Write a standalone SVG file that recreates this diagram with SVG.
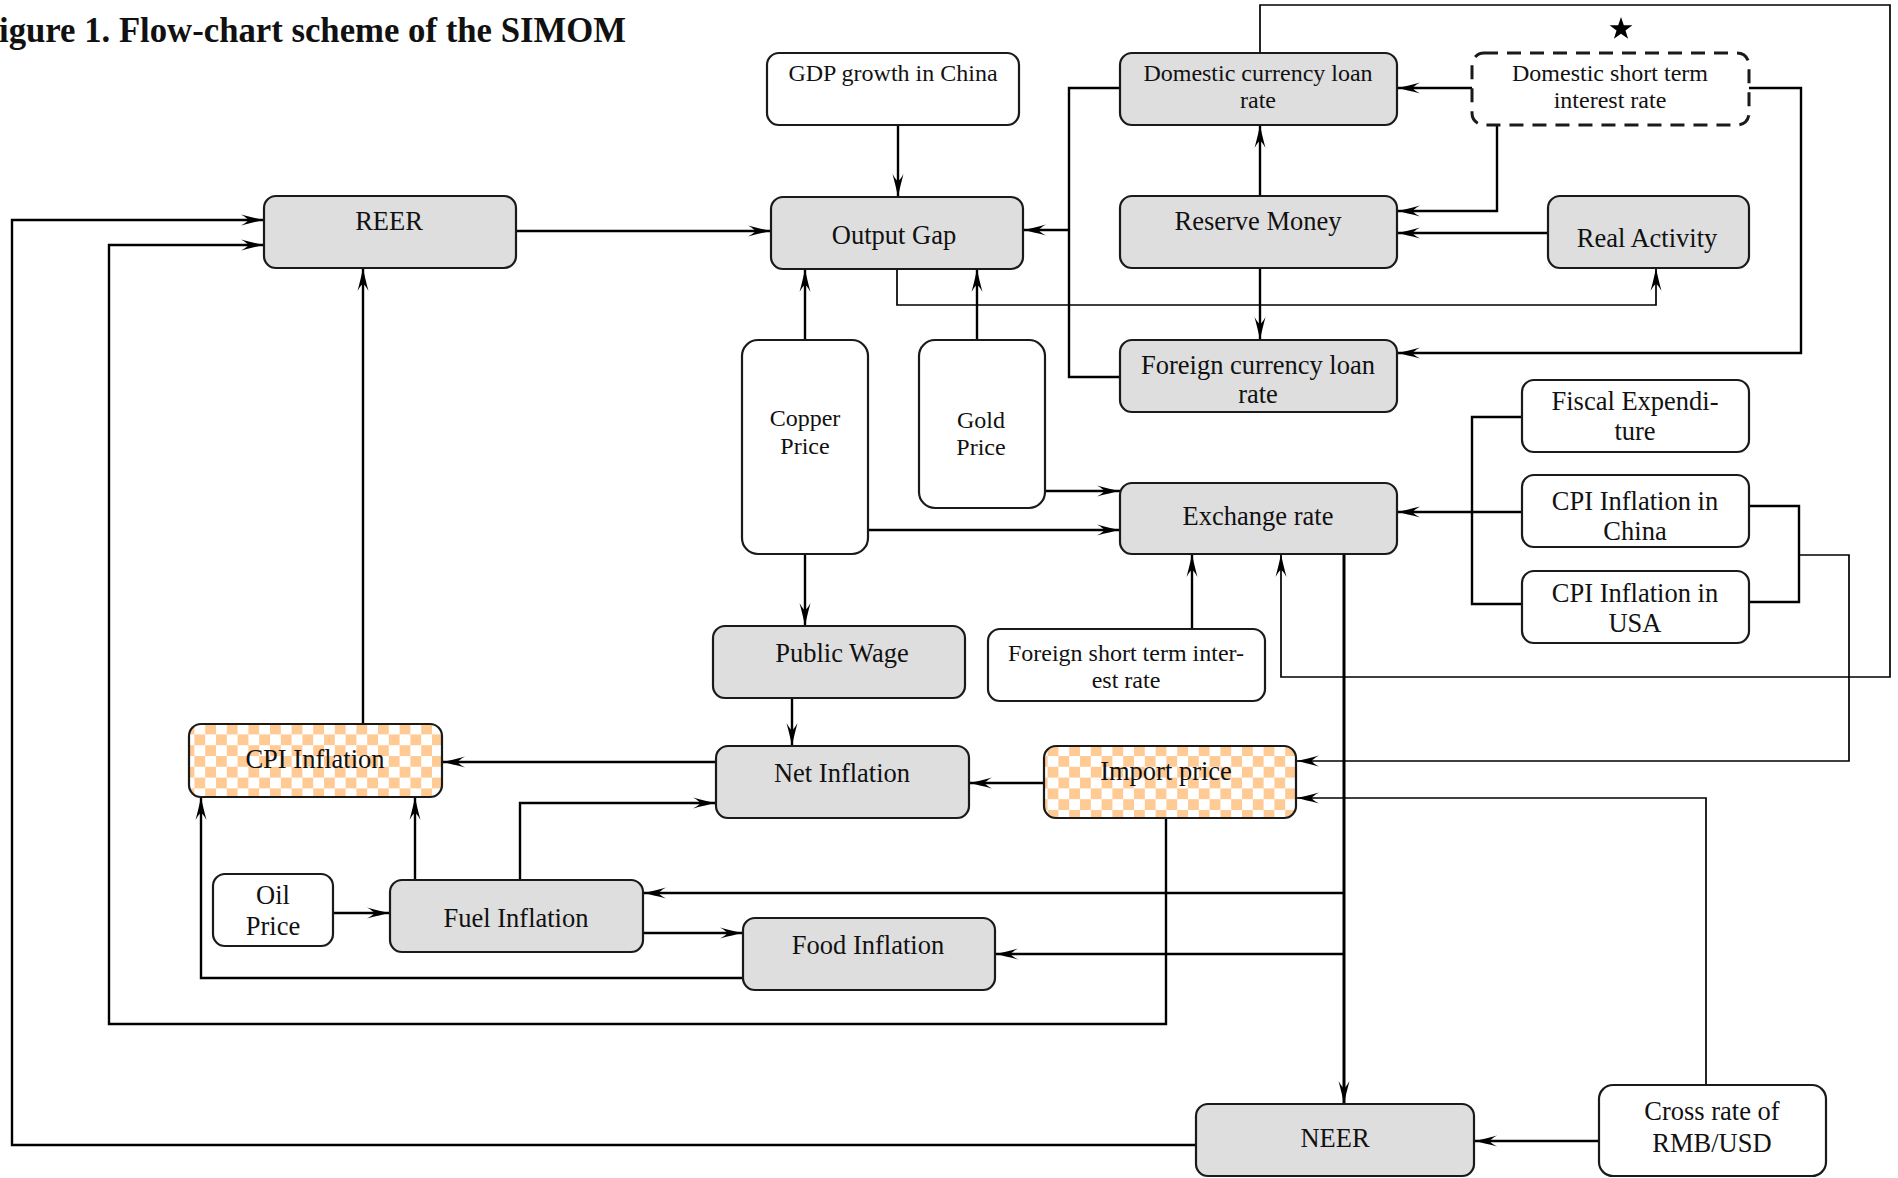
<svg xmlns="http://www.w3.org/2000/svg" width="1898" height="1178" viewBox="0 0 1898 1178">
<defs>
<style>
.n{stroke:#1a1a1a;stroke-width:2.2}
.g{fill:#dedede}
.w{fill:#ffffff}
.c{fill:url(#chk)}
.d{fill:#ffffff;stroke-dasharray:14 9;stroke-width:3}
text{font-family:"Liberation Serif","Times New Roman",serif;fill:#111;text-anchor:middle}
.t{font-size:26.5px}
.s{font-size:24px}
.ttl{font-size:35px;font-weight:bold;text-anchor:start}
.e{fill:none;stroke:#000;stroke-width:2.4}
.th{stroke-width:1.7}
.tk{stroke-width:3}
.ar{marker-end:url(#a)}
</style>
<pattern id="chk" patternUnits="userSpaceOnUse" width="21.6" height="21.6" x="0" y="0">
<rect width="21.6" height="21.6" fill="#ffffff"/>
<rect width="10.8" height="10.8" fill="#ffca94"/>
<rect x="10.8" y="10.8" width="10.8" height="10.8" fill="#ffca94"/>
</pattern>
<marker id="a" markerUnits="userSpaceOnUse" markerWidth="24" markerHeight="14" viewBox="0 0 24 14" refX="24" refY="7" orient="auto">
<path d="M24,7 Q14,5 1,1.5 Q8,5.5 8,7 Q8,8.5 1,12.5 Q14,9 24,7 Z" fill="#000"/>
</marker>
</defs>
<rect width="1898" height="1178" fill="#ffffff"/>
<text class="ttl" x="-1" y="42" textLength="627" lengthAdjust="spacingAndGlyphs">igure 1. Flow-chart scheme of the SIMOM</text>

<g id="connectors">
<path class="e ar" d="M898,125 V197"/>
<path class="e ar" d="M516,231 H771"/>
<path class="e" d="M1120,88 H1069 V377 H1120"/>
<path class="e ar" d="M1069,230 H1023"/>
<path class="e ar" d="M1260,196 V125"/>
<path class="e ar" d="M1260,268 V340"/>
<path class="e ar" d="M1472,88 H1397"/>
<path class="e ar" d="M1497,125 V211 H1397"/>
<path class="e ar" d="M1548,233 H1397"/>
<path class="e th ar" d="M897,269 V305 H1656 V268"/>
<path class="e ar" d="M1749,88 H1801 V353 H1397"/>
<path class="e th ar" d="M1260,53 V5 H1890 V677 H1281 V554"/>
<path class="e ar" d="M977,340 V269"/>
<path class="e ar" d="M805,340 V269"/>
<path class="e ar" d="M1045,491 H1120"/>
<path class="e ar" d="M868,530 H1120"/>
<path class="e ar" d="M805,554 V626"/>
<path class="e ar" d="M792,698 V746"/>
<path class="e ar" d="M1192,629 V554"/>
<path class="e" d="M1522,417 H1472 V604 H1522"/>
<path class="e ar" d="M1522,512 H1397"/>
<path class="e" d="M1749,506 H1799 V602 H1749"/>
<path class="e th ar" d="M1799,555 H1849 V761 H1296"/>
<path class="e tk ar" d="M1344,554 V1104"/>
<path class="e ar" d="M1344,893 H643"/>
<path class="e ar" d="M1344,954 H995"/>
<path class="e th ar" d="M1706,1085 V798 H1296"/>
<path class="e ar" d="M1599,1141 H1474"/>
<path class="e ar" d="M1196,1145 H12 V220 H264"/>
<path class="e ar" d="M1166,818 V1024 H109 V245 H264"/>
<path class="e ar" d="M1044,783 H969"/>
<path class="e ar" d="M716,762 H442"/>
<path class="e ar" d="M363,724 V268"/>
<path class="e ar" d="M415,880 V797"/>
<path class="e ar" d="M520,880 V803 H716"/>
<path class="e ar" d="M333,913 H390"/>
<path class="e ar" d="M643,933 H743"/>
<path class="e ar" d="M743,978 H201 V797"/>
</g>

<g id="gdp"><rect class="n w" x="767" y="53" width="252" height="72" rx="12"/><text class="s" x="893" y="81">GDP growth in China</text></g>
<g id="dclr"><rect class="n g" x="1120" y="53" width="277" height="72" rx="12"/><text class="s" x="1258" y="81">Domestic currency loan</text><text class="s" x="1258" y="108">rate</text></g>
<g id="dstir"><rect class="n d" x="1472" y="53" width="277" height="72" rx="12"/><text class="s" x="1610" y="81">Domestic short term</text><text class="s" x="1610" y="108">interest rate</text>
<polygon points="1621,17 1623.8,25.2 1632.4,25.3 1625.5,30.4 1628.1,38.7 1621,33.7 1613.9,38.7 1616.5,30.4 1609.6,25.3 1618.2,25.2" fill="#000"/></g>
<g id="reer"><rect class="n g" x="264" y="196" width="252" height="72" rx="12"/><text class="t" x="389" y="230">REER</text></g>
<g id="outputgap"><rect class="n g" x="771" y="197" width="252" height="72" rx="12"/><text class="t" x="894" y="244">Output Gap</text></g>
<g id="reservemoney"><rect class="n g" x="1120" y="196" width="277" height="72" rx="12"/><text class="t" x="1258" y="230">Reserve Money</text></g>
<g id="realactivity"><rect class="n g" x="1548" y="196" width="201" height="72" rx="12"/><text class="t" x="1647" y="247">Real Activity</text></g>
<g id="copper"><rect class="n w" x="742" y="340" width="126" height="214" rx="16"/><text class="s" x="805" y="426">Copper</text><text class="s" x="805" y="454">Price</text></g>
<g id="gold"><rect class="n w" x="919" y="340" width="126" height="168" rx="16"/><text class="s" x="981" y="428">Gold</text><text class="s" x="981" y="455">Price</text></g>
<g id="fclr"><rect class="n g" x="1120" y="340" width="277" height="72" rx="12"/><text class="t" x="1258" y="374">Foreign currency loan</text><text class="t" x="1258" y="403">rate</text></g>
<g id="fiscal"><rect class="n w" x="1522" y="380" width="227" height="72" rx="12"/><text class="t" x="1635" y="410">Fiscal Expendi-</text><text class="t" x="1635" y="440">ture</text></g>
<g id="exchange"><rect class="n g" x="1120" y="483" width="277" height="71" rx="12"/><text class="t" x="1258" y="525">Exchange rate</text></g>
<g id="cpichina"><rect class="n w" x="1522" y="475" width="227" height="72" rx="12"/><text class="t" x="1635" y="510">CPI Inflation in</text><text class="t" x="1635" y="540">China</text></g>
<g id="cpiusa"><rect class="n w" x="1522" y="571" width="227" height="72" rx="12"/><text class="t" x="1635" y="602">CPI Inflation in</text><text class="t" x="1635" y="632">USA</text></g>
<g id="publicwage"><rect class="n g" x="713" y="626" width="252" height="72" rx="12"/><text class="t" x="842" y="662">Public Wage</text></g>
<g id="fstir"><rect class="n w" x="988" y="629" width="277" height="72" rx="12"/><text class="s" x="1126" y="661">Foreign short term inter-</text><text class="s" x="1126" y="688">est rate</text></g>
<g id="cpiinflation"><rect class="n c" x="189" y="724" width="253" height="73" rx="12"/><text class="t" x="315" y="768">CPI Inflation</text></g>
<g id="netinflation"><rect class="n g" x="716" y="746" width="253" height="72" rx="12"/><text class="t" x="842" y="782">Net Inflation</text></g>
<g id="importprice"><rect class="n c" x="1044" y="746" width="252" height="72" rx="12"/><text class="t" x="1166" y="780">Import price</text></g>
<g id="oil"><rect class="n w" x="213" y="874" width="120" height="72" rx="12"/><text class="t" x="273" y="904">Oil</text><text class="t" x="273" y="935">Price</text></g>
<g id="fuel"><rect class="n g" x="390" y="880" width="253" height="72" rx="12"/><text class="t" x="516" y="927">Fuel Inflation</text></g>
<g id="food"><rect class="n g" x="743" y="918" width="252" height="72" rx="12"/><text class="t" x="868" y="954">Food Inflation</text></g>
<g id="neer"><rect class="n g" x="1196" y="1104" width="278" height="72" rx="12"/><text class="t" x="1335" y="1147">NEER</text></g>
<g id="cross"><rect class="n w" x="1599" y="1085" width="227" height="91" rx="14"/><text class="t" x="1712" y="1120">Cross rate of</text><text class="t" x="1712" y="1152">RMB/USD</text></g>
</svg>
